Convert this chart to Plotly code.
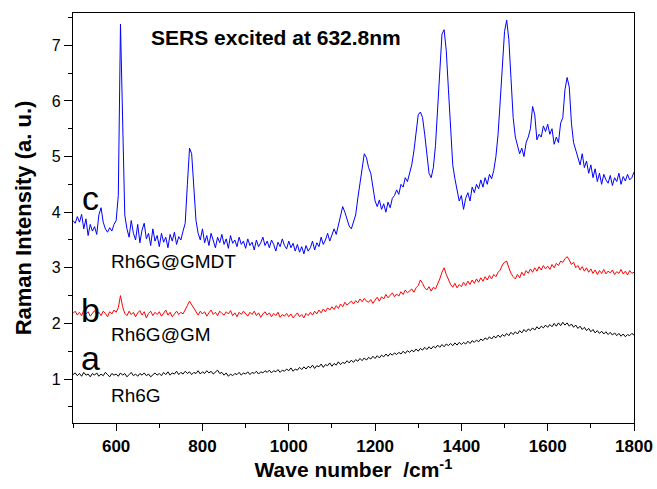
import plotly.graph_objects as go

# Wavenumber grid (cm^-1), 5 cm^-1 steps from 500 to 1800
wavenumber = list(range(500, 1801, 5))

# c: Rh6G@GMDT (blue)
rh6g_gmdt = [
    3.85, 3.80, 3.92, 3.82, 3.96, 3.70, 3.88, 3.58, 3.78, 3.66,   # 500
    3.74, 3.60, 3.95, 4.08, 3.82, 3.70, 3.64, 3.72, 3.66, 3.78,   # 550
    3.85, 4.30, 7.38, 5.60, 3.95, 3.70, 3.55, 3.85, 3.62, 3.50,   # 600
    3.78, 3.45, 3.68, 3.80, 3.52, 3.62, 3.40, 3.70, 3.48, 3.58,   # 650
    3.38, 3.62, 3.46, 3.55, 3.36, 3.60, 3.48, 3.64, 3.42, 3.56,   # 700
    3.50, 3.66, 3.80, 4.50, 5.15, 5.05, 4.40, 3.85, 3.62, 3.50,   # 750
    3.70, 3.45, 3.58, 3.40, 3.62, 3.48, 3.36, 3.55, 3.45, 3.60,   # 800
    3.42, 3.52, 3.35, 3.58, 3.44, 3.50, 3.38, 3.55, 3.42, 3.48,   # 850
    3.35, 3.52, 3.40, 3.46, 3.32, 3.50, 3.38, 3.45, 3.55, 3.40,   # 900
    3.48, 3.36, 3.50, 3.42, 3.30, 3.46, 3.38, 3.52, 3.40, 3.34,   # 950
    3.48, 3.36, 3.44, 3.30, 3.42, 3.28, 3.38, 3.25, 3.40, 3.30,   # 1000
    3.36, 3.48, 3.32, 3.45, 3.38, 3.55, 3.42, 3.50, 3.62, 3.48,   # 1050
    3.58, 3.70, 3.60, 3.78, 3.92, 4.10, 4.00, 3.88, 3.75, 3.70,   # 1100
    3.82, 3.95, 4.25, 4.55, 4.85, 5.05, 4.98, 4.80, 4.70, 4.45,   # 1150
    4.20, 4.10, 4.22, 4.05, 4.15, 4.00, 4.18, 4.08, 4.25, 4.30,   # 1200
    4.40, 4.32, 4.50, 4.45, 4.62, 4.55, 4.70, 4.85, 5.10, 5.45,   # 1250
    5.75, 5.80, 5.70, 5.40, 5.00, 4.70, 4.62, 4.80, 5.20, 5.90,   # 1300
    6.70, 7.20, 7.28, 6.90, 6.20, 5.40, 4.85, 4.60, 4.40, 4.20,   # 1350
    4.30, 4.05, 4.25, 4.35, 4.20, 4.45, 4.35, 4.50, 4.42, 4.58,   # 1400
    4.45, 4.62, 4.50, 4.68, 4.60, 4.75, 5.00, 5.40, 6.00, 6.70,   # 1450
    7.25, 7.45, 7.10, 6.40, 5.70, 5.35, 5.20, 5.05, 5.15, 5.00,   # 1500
    5.25, 5.35, 5.50, 5.90, 5.75, 5.30, 5.40, 5.35, 5.55, 5.45,   # 1550
    5.58, 5.40, 5.50, 5.22, 5.35, 5.25, 5.60, 5.70, 6.20, 6.42,   # 1600
    6.25, 5.60, 5.25, 5.10, 5.00, 4.85, 5.05, 4.80, 4.92, 4.70,   # 1650
    4.85, 4.62, 4.78, 4.55, 4.70, 4.50, 4.68, 4.58, 4.52, 4.66,   # 1700
    4.48, 4.62, 4.55, 4.70, 4.50, 4.64, 4.56, 4.68, 4.58, 4.62,   # 1750
    4.72,                                                         # 1800
]

# b: Rh6G@GM (red)
rh6g_gm = [
    2.18, 2.22, 2.15, 2.20, 2.14, 2.24, 2.17, 2.21, 2.13, 2.19,   # 500
    2.23, 2.16, 2.20, 2.14, 2.22, 2.18, 2.12, 2.21, 2.17, 2.24,   # 550
    2.20, 2.28, 2.50, 2.30, 2.18, 2.14, 2.22, 2.16, 2.20, 2.12,   # 600
    2.19, 2.23, 2.15, 2.21, 2.10, 2.18, 2.22, 2.14, 2.20, 2.16,   # 650
    2.21, 2.13, 2.19, 2.24, 2.15, 2.20, 2.12, 2.18, 2.22, 2.16,   # 700
    2.20, 2.17, 2.26, 2.32, 2.40, 2.34, 2.26, 2.20, 2.15, 2.22,   # 750
    2.17, 2.21, 2.13, 2.19, 2.24, 2.16, 2.20, 2.14, 2.22, 2.18,   # 800
    2.15, 2.21, 2.17, 2.23, 2.14, 2.19, 2.12, 2.20, 2.16, 2.22,   # 850
    2.18, 2.13, 2.20, 2.16, 2.22, 2.14, 2.19, 2.11, 2.17, 2.21,   # 900
    2.15, 2.19, 2.12, 2.18, 2.14, 2.20, 2.11, 2.16, 2.13, 2.18,   # 950
    2.12, 2.17, 2.10, 2.15, 2.19, 2.12, 2.16, 2.10, 2.18, 2.14,   # 1000
    2.20, 2.15, 2.22, 2.17, 2.24, 2.19, 2.26, 2.21, 2.28, 2.24,   # 1050
    2.30, 2.25, 2.32, 2.27, 2.35, 2.30, 2.38, 2.33, 2.36, 2.40,   # 1100
    2.35, 2.41, 2.37, 2.44, 2.39, 2.45, 2.40, 2.38, 2.43, 2.36,   # 1150
    2.42, 2.47, 2.40, 2.48, 2.44, 2.52, 2.46, 2.50, 2.55, 2.48,   # 1200
    2.53, 2.49, 2.57, 2.52, 2.60, 2.55, 2.58, 2.62, 2.56, 2.64,   # 1250
    2.68, 2.78, 2.72, 2.64, 2.60, 2.66, 2.58, 2.65, 2.62, 2.70,   # 1300
    2.80, 2.92, 3.00, 2.88, 2.78, 2.70, 2.65, 2.72, 2.64, 2.70,   # 1350
    2.66, 2.74, 2.68, 2.76, 2.70, 2.78, 2.72, 2.80, 2.74, 2.82,   # 1400
    2.76, 2.84, 2.78, 2.86, 2.80, 2.88, 2.84, 2.92, 2.96, 3.05,   # 1450
    3.10, 3.12, 3.00, 2.90, 2.84, 2.80, 2.88, 2.82, 2.92, 2.86,   # 1500
    2.95, 2.90, 2.98, 2.92, 3.00, 2.94, 3.02, 2.96, 3.04, 2.98,   # 1550
    3.03, 2.97, 3.06, 3.00, 3.08, 3.04, 3.12, 3.10, 3.16, 3.20,   # 1600
    3.14, 3.06, 3.10, 3.00, 3.04, 2.96, 3.02, 2.94, 3.00, 2.92,   # 1650
    2.98, 2.90, 2.96, 2.88, 2.95, 2.90, 2.97, 2.89, 2.94, 2.91,   # 1700
    2.96, 2.88, 2.93, 2.90, 2.97, 2.89, 2.94, 2.87, 2.95, 2.90,   # 1750
    2.92,                                                         # 1800
]

# a: Rh6G (black)
rh6g = [
    1.08, 1.11, 1.06, 1.10, 1.05, 1.12, 1.07, 1.09, 1.04, 1.10,   # 500
    1.07, 1.11, 1.05, 1.09, 1.06, 1.12, 1.08, 1.04, 1.10, 1.07,   # 550
    1.09, 1.05, 1.11, 1.07, 1.10, 1.04, 1.08, 1.12, 1.06, 1.09,   # 600
    1.05, 1.10, 1.07, 1.11, 1.06, 1.09, 1.04, 1.08, 1.11, 1.07,   # 650
    1.10, 1.06, 1.12, 1.08, 1.13, 1.07, 1.11, 1.09, 1.14, 1.08,   # 700
    1.12, 1.09, 1.14, 1.10, 1.13, 1.08, 1.12, 1.10, 1.15, 1.09,   # 750
    1.13, 1.10, 1.15, 1.11, 1.14, 1.09, 1.13, 1.16, 1.10, 1.12,   # 800
    1.07, 1.11, 1.05, 1.09, 1.06, 1.10, 1.08, 1.12, 1.07, 1.11,   # 850
    1.09, 1.13, 1.08, 1.12, 1.10, 1.14, 1.09, 1.13, 1.11, 1.15,   # 900
    1.12, 1.16, 1.11, 1.15, 1.13, 1.17, 1.12, 1.16, 1.14, 1.18,   # 950
    1.15, 1.20, 1.14, 1.18, 1.16, 1.21, 1.17, 1.22, 1.18, 1.23,   # 1000
    1.20, 1.25, 1.19, 1.24, 1.22, 1.27, 1.21, 1.26, 1.24, 1.29,   # 1050
    1.23, 1.28, 1.25, 1.31, 1.26, 1.30, 1.28, 1.33, 1.29, 1.34,   # 1100
    1.30, 1.35, 1.32, 1.37, 1.33, 1.38, 1.34, 1.39, 1.36, 1.41,   # 1150
    1.37, 1.42, 1.38, 1.43, 1.40, 1.45, 1.41, 1.46, 1.43, 1.47,   # 1200
    1.44, 1.48, 1.45, 1.50, 1.46, 1.51, 1.48, 1.52, 1.49, 1.54,   # 1250
    1.50, 1.55, 1.52, 1.57, 1.53, 1.58, 1.54, 1.59, 1.56, 1.61,   # 1300
    1.57, 1.62, 1.58, 1.63, 1.60, 1.64, 1.60, 1.65, 1.61, 1.66,   # 1350
    1.62, 1.66, 1.63, 1.68, 1.64, 1.69, 1.66, 1.70, 1.67, 1.72,   # 1400
    1.69, 1.74, 1.71, 1.76, 1.72, 1.77, 1.74, 1.79, 1.75, 1.80,   # 1450
    1.77, 1.82, 1.78, 1.84, 1.80, 1.85, 1.81, 1.87, 1.83, 1.89,   # 1500
    1.85, 1.90, 1.87, 1.92, 1.88, 1.94, 1.90, 1.95, 1.92, 1.97,   # 1550
    1.93, 1.98, 1.94, 2.00, 1.95, 2.01, 1.96, 2.02, 1.97, 2.01,   # 1600
    1.95, 1.99, 1.93, 1.97, 1.91, 1.95, 1.89, 1.93, 1.87, 1.91,   # 1650
    1.85, 1.89, 1.83, 1.87, 1.82, 1.86, 1.81, 1.85, 1.80, 1.84,   # 1700
    1.79, 1.83, 1.78, 1.82, 1.77, 1.81, 1.76, 1.80, 1.78, 1.82,   # 1750
    1.79,                                                         # 1800
]

assert len(wavenumber) == len(rh6g_gmdt) == len(rh6g_gm) == len(rh6g)

x_ticks = [600, 800, 1000, 1200, 1400, 1600, 1800]
y_ticks = [1, 2, 3, 4, 5, 6, 7]

FONT = "Arial, 'Liberation Sans', sans-serif"

fig = go.Figure()
fig.add_trace(go.Scatter(x=wavenumber, y=rh6g, mode="lines", name="Rh6G",
                         line=dict(color="#000000", width=1)))
fig.add_trace(go.Scatter(x=wavenumber, y=rh6g_gm, mode="lines", name="Rh6G@GM",
                         line=dict(color="#FF0000", width=1)))
fig.add_trace(go.Scatter(x=wavenumber, y=rh6g_gmdt, mode="lines", name="Rh6G@GMDT",
                         line=dict(color="#0000FF", width=1)))

fig.update_layout(
    width=657, height=489,
    margin=dict(l=73, r=23, t=13, b=66, autoexpand=False),
    paper_bgcolor="white", plot_bgcolor="white",
    showlegend=False,
    font=dict(family=FONT, color="black"),
    xaxis=dict(
        range=[500, 1800], tickvals=x_ticks, ticktext=[str(v) for v in x_ticks],
        ticks="outside", ticklen=7, tickwidth=1.2, tickcolor="black",
        minor=dict(tickvals=[500, 700, 900, 1100, 1300, 1500, 1700], ticks="outside",
                   ticklen=4, tickwidth=1.2, tickcolor="black"),
        showline=True, linecolor="black", linewidth=1.3, mirror=True,
        showgrid=False, zeroline=False,
        tickfont=dict(family=FONT, size=17, weight="bold", color="black"),
        title=dict(text="Wave number  /cm<sup>-1</sup>",
                   font=dict(family=FONT, size=21, weight="bold", color="black"),
                   standoff=7),
    ),
    yaxis=dict(
        range=[0.21, 7.58], tickvals=y_ticks, ticktext=[str(v) for v in y_ticks],
        ticks="outside", ticklen=8, tickwidth=1.2, tickcolor="black",
        minor=dict(tickvals=[0.5, 1.5, 2.5, 3.5, 4.5, 5.5, 6.5, 7.5], ticks="outside",
                   ticklen=4, tickwidth=1.2, tickcolor="black"),
        showline=True, linecolor="black", linewidth=1.3, mirror=True,
        showgrid=False, zeroline=False,
        tickfont=dict(family=FONT, size=16, color="black"),
        title=dict(text="Raman Intensity (a. u.)",
                   font=dict(family=FONT, size=22, weight="bold", color="black"),
                   standoff=14),
    ),
)

annotations = [
    dict(x=970.8, y=7.14, text="SERS excited at 632.8nm", xanchor="center", yanchor="middle",
         font=dict(family=FONT, size=21, weight="bold", color="black")),
    dict(x=540.5, y=4.249, text="c", xanchor="center", yanchor="middle",
         font=dict(family=FONT, size=34, color="black")),
    dict(x=540.5, y=2.242, text="b", xanchor="center", yanchor="middle",
         font=dict(family=FONT, size=34, color="black")),
    dict(x=540.5, y=1.378, text="a", xanchor="center", yanchor="middle",
         font=dict(family=FONT, size=34, color="black")),
    dict(x=583.5, y=3.106, text="Rh6G@GMDT", xanchor="left", yanchor="middle",
         font=dict(family=FONT, size=19, color="black")),
    dict(x=583.5, y=1.792, text="Rh6G@GM", xanchor="left", yanchor="middle",
         font=dict(family=FONT, size=19, color="black")),
    dict(x=583.5, y=0.712, text="Rh6G", xanchor="left", yanchor="middle",
         font=dict(family=FONT, size=19, color="black")),
]
for a in annotations:
    a.update(xref="x", yref="y", showarrow=False)
fig.update_layout(annotations=annotations)

fig.write_html("out.html")
